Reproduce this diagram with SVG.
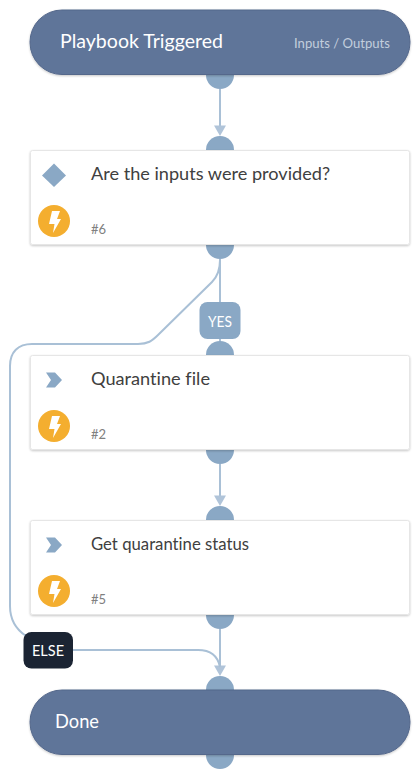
<svg xmlns="http://www.w3.org/2000/svg" width="420" height="779" viewBox="0 0 420 779">
<style>
text{font-family:"Lato","Noto Sans","Liberation Sans",sans-serif;font-variant-ligatures:none}
.port{fill:#8aa8c5}
.pill{fill:#5f7499;stroke:#54688b;stroke-width:1;filter:url(#sh)}
.card{fill:#fff;stroke:#e6e6e6;stroke-width:1;filter:url(#sh)}
.line{fill:none;stroke:#a9c0d6;stroke-width:2}
.head{fill:#b0c4d9}
.title{font-size:18px;fill:#404040}
.pilltext{font-size:19px;fill:#fff}
.num{font-size:13px;fill:#808080}
.badge{font-size:15px;fill:#fff;text-anchor:middle}
.bolt{fill:#f4ae2f}
</style>
<defs>
<filter id="sh" x="-5%" y="-10%" width="110%" height="125%"><feDropShadow dx="0" dy="1" stdDeviation="1.2" flood-color="#000" flood-opacity=".22"/></filter>
<g id="lightning"><circle r="16" class="bolt"/><path d="M-2-10H6L3-2H7L-1 12 .5 3H-5Z" fill="#fff"/></g>
</defs>
<g id="connectors">
<path class="line" d="M220 89V126"/>
<path class="head" d="M214 125.500H226L220 136Z"/>
<path class="line" d="M220 259V302"/>
<path class="line" d="M220 260C220 270 217 277 212 282L158 335C152 341 148 344 138 344H32C18 344 10 352 10 366V606C10 618 14 628 26 636"/>
<path class="line" d="M220 339V342"/>
<path class="line" d="M220 464V496"/>
<path class="head" d="M214 495.500H226L220 506Z"/>
<path class="line" d="M220 629V666"/>
<path class="head" d="M214 665.500H226L220 676Z"/>
<path class="line" d="M73 650H198C211 650 218 657 220 667"/>
</g>
<g id="ports">
<circle class="port" cx="220" cy="75" r="14"/><circle class="port" cx="220" cy="150" r="14"/>
<circle class="port" cx="220" cy="245" r="14"/><circle class="port" cx="220" cy="355" r="14"/>
<circle class="port" cx="220" cy="450" r="14"/><circle class="port" cx="220" cy="520" r="14"/>
<circle class="port" cx="220" cy="615" r="14"/><circle class="port" cx="220" cy="690" r="14"/>
<circle class="port" cx="220" cy="755" r="14"/>
</g>
<g id="node-start">
<rect class="pill" x="30" y="10" width="380" height="64.500" rx="32"/>
<text class="pilltext" x="60" y="48" textLength="163" lengthAdjust="spacingAndGlyphs">Playbook Triggered</text>
<text x="294" y="47.500" font-size="13.500" fill="#c3cedd" textLength="96" lengthAdjust="spacingAndGlyphs">Inputs / Outputs</text>
</g>
<g id="node-6">
<rect class="card" x="30.500" y="150.500" width="379" height="94" rx="2"/>
<path d="M54 163.500 66 175.500 54 187 42 175.500Z" fill="#8aa8c5"/>
<text class="title" x="91" y="180" textLength="239" lengthAdjust="spacingAndGlyphs">Are the inputs were provided?</text>
<use href="#lightning" x="54" y="221"/>
<text class="num" x="91" y="234">#6</text>
</g>
<g id="node-2">
<rect class="card" x="30.500" y="355.500" width="379" height="94" rx="2"/>
<path d="M46 372.500H55L62 380 55 387.500H46L51 380Z" fill="#8aa8c5"/>
<text class="title" x="91" y="385" textLength="119" lengthAdjust="spacingAndGlyphs">Quarantine file</text>
<use href="#lightning" x="54" y="426"/>
<text class="num" x="91" y="439">#2</text>
</g>
<g id="node-5">
<rect class="card" x="30.500" y="520.500" width="379" height="94" rx="2"/>
<path d="M46 537.500H55L62 545 55 552.500H46L51 545Z" fill="#8aa8c5"/>
<text class="title" x="91" y="550" textLength="158" lengthAdjust="spacingAndGlyphs">Get quarantine status</text>
<use href="#lightning" x="54" y="591"/>
<text class="num" x="91" y="604">#5</text>
</g>
<g id="node-done">
<rect class="pill" x="30" y="690" width="380" height="64.500" rx="32"/>
<text class="pilltext" x="55" y="728" textLength="44" lengthAdjust="spacingAndGlyphs">Done</text>
</g>
<g id="label-yes">
<rect x="199.500" y="302" width="41" height="37" rx="8" fill="#8aa8c5"/>
<text class="badge" x="220" y="326.500" textLength="24" lengthAdjust="spacingAndGlyphs">YES</text>
</g>
<g id="label-else">
<rect x="23.500" y="632" width="49.500" height="36.500" rx="8" fill="#1b2433"/>
<text class="badge" x="48" y="656" textLength="32" lengthAdjust="spacingAndGlyphs">ELSE</text>
</g>
</svg>
